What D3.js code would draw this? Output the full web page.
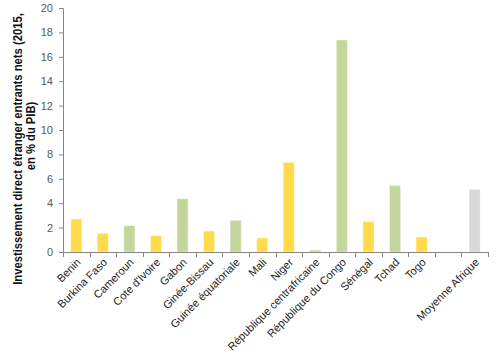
<!DOCTYPE html>
<html><head><meta charset="utf-8">
<script src="https://cdn.jsdelivr.net/npm/d3@7"></script>
<style>body{margin:0;background:#fff}svg{display:block}</style>
</head><body>
<svg id="c" width="499" height="355"></svg>
<script>
const categories = ["Benin","Burkina Faso","Cameroun","Cote d'Ivoire","Gabon","Ginée-Bissau","Guinée équatoriale","Mali","Niger","République centrafricaine","République du Congo","Sénégal","Tchad","Togo"," ","Moyenne Afrique"];
const values = [2.70,1.53,2.16,1.34,4.37,1.72,2.60,1.15,7.35,0.16,17.38,2.49,5.46,1.23,null,5.14];
const groups = ["cedeao","cedeao","cemac","cedeao","cemac","cedeao","cemac","cedeao","cedeao","cemac","cemac","cedeao","cemac","cedeao","","afrique"];
const yTicks = [0,2,4,6,8,10,12,14,16,18,20];
const titleLines = ["Investissement direct étranger entrants nets (2015,","en % du PIB)"];

(function () {
const colors = {cedeao:"#FFDA4A", cemac:"#C3D69B", afrique:"#D9D9D9"};
const svg = d3.select("#c");
const mLeft = 63, mRight = 488, mTop = 8, mBottom = 252;

const x = d3.scaleBand().domain(categories).range([mLeft, mRight]).padding(0);
const y = d3.scaleLinear().domain([0, 20]).range([mBottom, mTop]);
const axisColor = "#868686";
const font = "'Liberation Sans', Arial, sans-serif";

// y axis
const yAxis = svg.append("g").attr("transform", `translate(${mLeft},0)`)
  .call(d3.axisLeft(y).tickValues(yTicks).tickSize(4).tickPadding(6).tickFormat(d3.format("d")));
yAxis.select(".domain").attr("stroke", axisColor);
yAxis.selectAll(".tick line").attr("stroke", axisColor);
yAxis.selectAll(".tick text").attr("fill", "#595959").style("font-family", font).style("font-size", "11px");

// bars
const data = categories.map((c, i) => ({c, v: values[i], g: groups[i]})).filter(d => d.v != null);
const bw = x.bandwidth() * 0.42;
svg.append("g").selectAll("rect").data(data).join("rect")
  .attr("x", d => x(d.c) + (x.bandwidth() - bw) / 2)
  .attr("width", bw)
  .attr("y", d => y(d.v))
  .attr("height", d => y(0) - y(d.v))
  .attr("fill", d => colors[d.g])
  .attr("stroke", "rgba(255,255,255,0.45)")
  .attr("stroke-width", 1);

// x axis
const xg = svg.append("g");
xg.append("line").attr("x1", mLeft).attr("x2", mRight).attr("y1", mBottom + 0.5).attr("y2", mBottom + 0.5).attr("stroke", axisColor);
const bounds = categories.map(c => x(c)).concat([mRight]);
xg.selectAll("line.t").data(bounds).join("line").attr("class", "t")
  .attr("x1", d => Math.round(d) + 0.5).attr("x2", d => Math.round(d) + 0.5)
  .attr("y1", mBottom).attr("y2", mBottom + 5).attr("stroke", axisColor);
xg.selectAll("text").data(categories).join("text")
  .attr("transform", d => `translate(${x(d) + x.bandwidth() / 2 + 5},${mBottom + 11}) rotate(-45)`)
  .attr("text-anchor", "end")
  .attr("fill", "#222")
  .style("font-family", font).style("font-size", "11px")
  .text(d => d);

// y title (horizontally condensed via scale to mimic narrow Calibri)
const t1 = svg.append("text")
  .attr("text-anchor", "middle").style("font-family", font).style("font-size", "12.5px").style("font-weight", "bold")
  .attr("fill", "#111").text(titleLines[0]);
const k = 272 / t1.node().getComputedTextLength();
t1.attr("transform", `translate(22,149) rotate(-90) scale(${k},1)`);
const t2 = svg.append("text")
  .attr("text-anchor", "middle").style("font-family", font).style("font-size", "12.5px").style("font-weight", "bold")
  .attr("fill", "#111").text(titleLines[1]);
t2.attr("transform", `translate(35,136) rotate(-90) scale(${k},1)`);
})();
</script>
</body></html>
